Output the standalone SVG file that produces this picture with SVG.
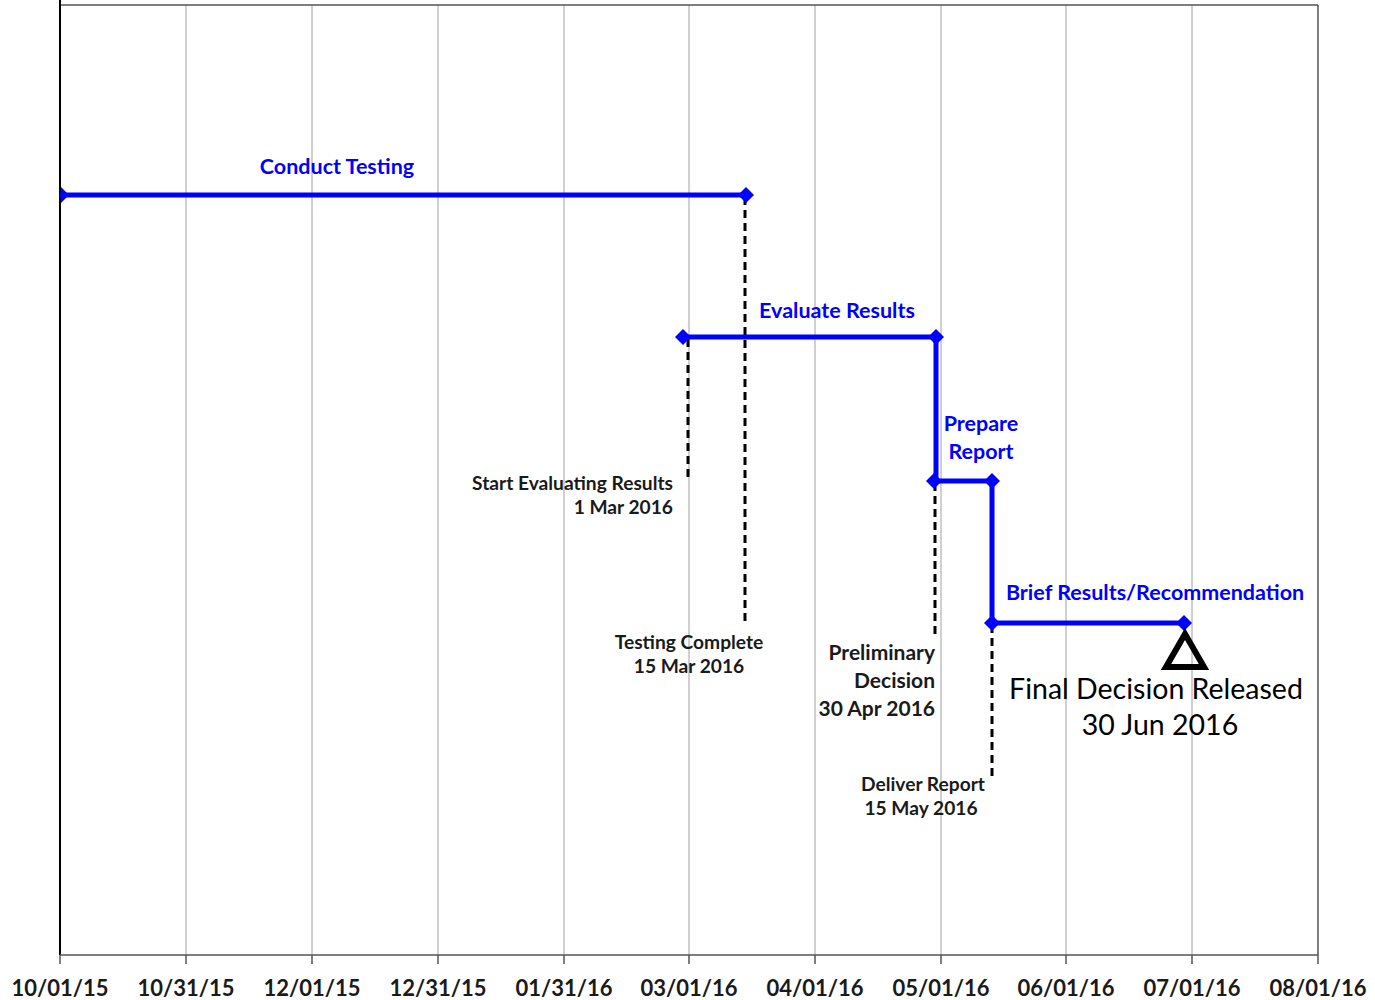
<svg xmlns="http://www.w3.org/2000/svg" width="1375" height="1000" viewBox="0 0 1375 1000">
<style>
.grid{stroke:#a0a0a0;stroke-width:1}
.tick{stroke:#555;stroke-width:1.5}
.ax{font-family:Lato,"Liberation Sans",sans-serif;font-weight:bold;font-size:22px;fill:#1a1a1a;text-anchor:middle}
.bar{stroke:#0000ff;stroke-width:5;fill:none}
.blab{font-family:Lato,"Liberation Sans",sans-serif;font-weight:bold;font-size:21.5px;fill:#0000ff}
.dash{stroke:#000;stroke-width:3;stroke-dasharray:8,5;fill:none}
.klab{font-family:Lato,"Liberation Sans",sans-serif;font-weight:bold;font-size:19.2px;fill:#1a1a1a}
.klab2{font-family:Lato,"Liberation Sans",sans-serif;font-weight:bold;font-size:21px;fill:#1a1a1a}
.big{font-family:Lato,"Liberation Sans",sans-serif;font-size:28.5px;fill:#000;text-anchor:middle}
.dia{fill:#0000ff}
</style>
<rect width="1375" height="1000" fill="#fff"/>
<g id="grid">
<line class="grid" x1="186" y1="5" x2="186" y2="955"/>
<line class="grid" x1="312" y1="5" x2="312" y2="955"/>
<line class="grid" x1="438" y1="5" x2="438" y2="955"/>
<line class="grid" x1="564" y1="5" x2="564" y2="955"/>
<line class="grid" x1="689" y1="5" x2="689" y2="955"/>
<line class="grid" x1="815" y1="5" x2="815" y2="955"/>
<line class="grid" x1="941" y1="5" x2="941" y2="955"/>
<line class="grid" x1="1066" y1="5" x2="1066" y2="955"/>
<line class="grid" x1="1192" y1="5" x2="1192" y2="955"/>
<line x1="60" y1="5" x2="1318" y2="5" stroke="#555" stroke-width="1.5"/>
<line x1="1318" y1="5" x2="1318" y2="955" stroke="#555" stroke-width="1.5"/>
<line x1="60" y1="0" x2="60" y2="955" stroke="#000" stroke-width="2"/>
<line x1="60" y1="955" x2="1318" y2="955" stroke="#555" stroke-width="1.5"/>
<path class="tick" d="M60,955V964M186,955V964M312,955V964M438,955V964M564,955V964M689,955V964M815,955V964M941,955V964M1066,955V964M1192,955V964M1318,955V964"/>
</g>
<g id="axis-labels">
<text class="ax" x="60" y="996">10/01/15</text>
<text class="ax" x="186" y="996">10/31/15</text>
<text class="ax" x="312" y="996">12/01/15</text>
<text class="ax" x="438" y="996">12/31/15</text>
<text class="ax" x="564" y="996">01/31/16</text>
<text class="ax" x="689" y="996">03/01/16</text>
<text class="ax" x="815" y="996">04/01/16</text>
<text class="ax" x="941" y="996">05/01/16</text>
<text class="ax" x="1066" y="996">06/01/16</text>
<text class="ax" x="1192" y="996">07/01/16</text>
<text class="ax" x="1318" y="996">08/01/16</text>
</g>
<g id="connectors">
<line class="dash" x1="745" y1="197" x2="745" y2="625"/>
<line class="dash" x1="688" y1="339" x2="688" y2="482"/>
<line class="dash" x1="935" y1="483" x2="935" y2="636"/>
<line class="dash" x1="992" y1="625" x2="992" y2="777"/>
<line class="bar" x1="936" y1="337" x2="936" y2="481"/>
<line class="bar" x1="992" y1="481" x2="992" y2="623"/>
</g>
<g id="conduct-testing">
<line class="bar" x1="60" y1="195" x2="746" y2="195"/>
<path class="dia" d="M61,187 L69,195 L61,203 Z"/>
<path class="dia" d="M738,195 L746,187 L754,195 L746,203 Z"/>
<text class="blab" x="337" y="174" text-anchor="middle">Conduct Testing</text>
</g>
<g id="evaluate-results">
<line class="bar" x1="683" y1="337" x2="936" y2="337"/>
<path class="dia" d="M675,337 L683,329 L691,337 L683,345 Z"/>
<path class="dia" d="M928,337 L936,329 L944,337 L936,345 Z"/>
<text class="blab" x="837" y="318" text-anchor="middle">Evaluate Results</text>
</g>
<g id="prepare-report">
<line class="bar" x1="934" y1="481" x2="992" y2="481"/>
<path class="dia" d="M926,481 L934,473 L942,481 L934,489 Z"/>
<path class="dia" d="M984,481 L992,473 L1000,481 L992,489 Z"/>
<text class="blab" x="981" y="431" text-anchor="middle">Prepare</text>
<text class="blab" x="981" y="459" text-anchor="middle">Report</text>
</g>
<g id="brief-results">
<line class="bar" x1="992" y1="623" x2="1184" y2="623"/>
<path class="dia" d="M984,623 L992,615 L1000,623 L992,631 Z"/>
<path class="dia" d="M1176,623 L1184,615 L1192,623 L1184,631 Z"/>
<text class="blab" x="1155" y="600" text-anchor="middle">Brief Results/Recommendation</text>
</g>
<g id="final-decision">
<path d="M1185,634 L1204,667 L1166,667 Z" fill="none" stroke="#000" stroke-width="6" stroke-linejoin="miter"/>
<text class="big" x="1156" y="699">Final Decision Released</text>
<text class="big" x="1160" y="735">30 Jun 2016</text>
</g>
<g id="start-evaluating">
<text class="klab" x="673" y="490" text-anchor="end">Start Evaluating Results</text>
<text class="klab" x="673" y="514" text-anchor="end">1 Mar 2016</text>
</g>
<g id="testing-complete">
<text class="klab" x="689" y="649" text-anchor="middle">Testing Complete</text>
<text class="klab" x="689" y="673" text-anchor="middle">15 Mar 2016</text>
</g>
<g id="preliminary-decision">
<text class="klab2" x="935" y="660" text-anchor="end">Preliminary</text>
<text class="klab2" x="935" y="688" text-anchor="end">Decision</text>
<text class="klab2" x="935" y="716" text-anchor="end">30 Apr 2016</text>
</g>
<g id="deliver-report">
<text class="klab" x="923" y="791" text-anchor="middle">Deliver Report</text>
<text class="klab" x="921" y="815" text-anchor="middle">15 May 2016</text>
</g>
</svg>
